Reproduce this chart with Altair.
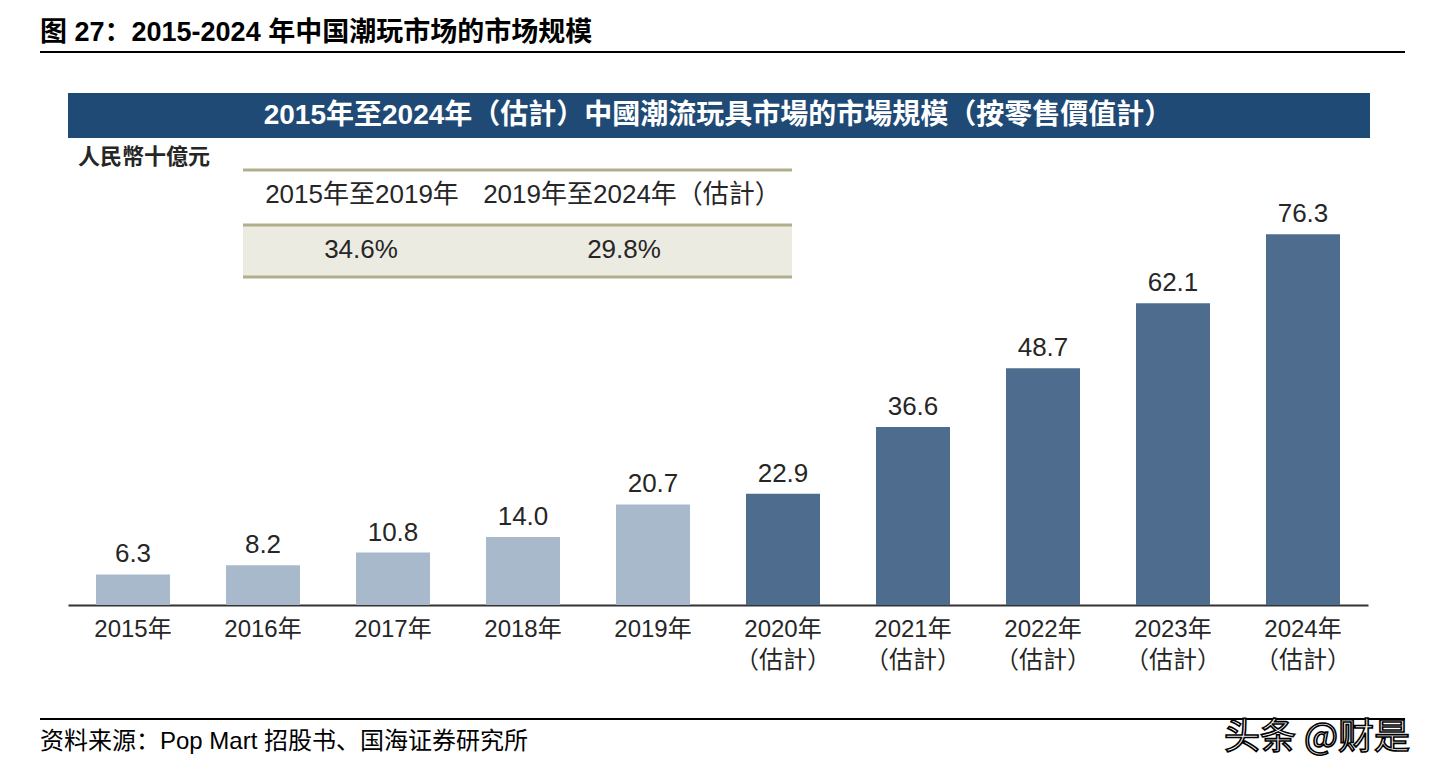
import altair as alt
import pandas as pd

# ---- data ----
years = ["2015年", "2016年", "2017年", "2018年", "2019年",
         "2020年", "2021年", "2022年", "2023年", "2024年"]
notes = ["", "", "", "", "", "（估計）", "（估計）", "（估計）", "（估計）", "（估計）"]
values = [6.3, 8.2, 10.8, 14.0, 20.7, 22.9, 36.6, 48.7, 62.1, 76.3]
kinds = ["实际", "实际", "实际", "实际", "实际", "估计", "估计", "估计", "估计", "估计"]

cagr_headers = ["2015年至2019年", "2019年至2024年（估計）"]
cagr_values = ["34.6%", "29.8%"]

fig_title = "图 27：2015-2024 年中国潮玩市场的市场规模"
chart_header = "2015年至2024年（估計）中國潮流玩具市場的市場規模（按零售價值計）"
unit_label = "人民幣十億元"
source_text = "资料来源：Pop Mart 招股书、国海证券研究所"
watermark = "头条 @财是"

df = pd.DataFrame({"year": years, "note": notes, "value": values, "kind": kinds})

LAT_TC = "Liberation Sans, Noto Sans CJK TC"
LAT_SC = "Liberation Sans, Noto Sans CJK SC"
TXT = "#262626"

xenc = alt.X("year:N", sort=years, title=None,
             scale=alt.Scale(paddingInner=0.43, paddingOuter=0.215),
             axis=alt.Axis(labels=False, ticks=False, domainColor="#333333",
                           domainWidth=2, grid=False))
yenc = alt.Y("value:Q", scale=alt.Scale(domain=[0, 100], nice=False), axis=None)

base = alt.Chart(df)

bars = base.mark_bar(size=74).encode(
    x=xenc, y=yenc,
    color=alt.Color("kind:N", scale=alt.Scale(domain=["实际", "估计"],
                                              range=["#a8b9cc", "#4e6d8e"]),
                    legend=None),
)

vlabels = base.mark_text(baseline="alphabetic", dy=-12, fontSize=26,
                         font=LAT_TC, color=TXT).encode(
    x=alt.X("year:N", sort=years), y="value:Q",
    text=alt.Text("value:Q", format=".1f"),
)

xl1 = base.mark_text(baseline="middle", fontSize=24, font=LAT_TC,
                     color=TXT).encode(
    x=alt.X("year:N", sort=years), y=alt.value(511), text="year:N")
xl2 = base.mark_text(baseline="middle", fontSize=24, font=LAT_TC,
                     color=TXT).encode(
    x=alt.X("year:N", sort=years), y=alt.value(542), text="note:N")

one = pd.DataFrame({"a": [0]})
oc = alt.Chart(one)


def rule(x1, x2, y, color, w):
    return oc.mark_rule(color=color, strokeWidth=w).encode(
        x=alt.value(x1), x2=alt.value(x2), y=alt.value(y))


def rect(x1, x2, y1, y2, color):
    return oc.mark_rect(color=color).encode(
        x=alt.value(x1), x2=alt.value(x2), y=alt.value(y1), y2=alt.value(y2))


def text(t, x, y, size, font=LAT_TC, weight="normal", color=TXT,
         align="left", **kw):
    return oc.mark_text(text=t, fontSize=size, font=font, fontWeight=weight,
                        color=color, align=align, baseline="middle", **kw).encode(
        x=alt.value(x), y=alt.value(y))


layers = [
    text(fig_title, -28, -86, 27, font=LAT_SC, weight="bold", color="#000000"),
    rule(-28, 1337, -67, "#000000", 2),
    rect(0, 1302, -26, 19, "#1f4a75"),
    text(chart_header, 650, -3, 28, weight="bold", color="#ffffff",
         align="center"),
    text(unit_label, 10, 38, 22, weight="bold"),
    rect(175, 724, 106, 158, "#ecebe1"),
    rule(175, 724, 51, "#b1ae8c", 3),
    rule(175, 724, 106, "#b1ae8c", 3),
    rule(175, 724, 158, "#b1ae8c", 3),
]
hx = [294, 564]
vx = [293, 556]
for i in range(2):
    layers.append(text(cagr_headers[i], hx[i], 76, 26, align="center"))
    layers.append(text(cagr_values[i], vx[i], 131, 26, align="center"))

layers += [
    rule(-28, 1337, 600, "#000000", 2),
    text(source_text, -28, 623, 24, font=LAT_SC, color="#000000"),
    text(watermark, 1342, 619, 36, font="Noto Sans CJK SC", color="#ffffff",
         align="right", stroke="#000000", strokeWidth=1.6),
]

chart = alt.layer(bars, vlabels, xl1, xl2, *layers).properties(
    width=1300, height=486,
    padding={"left": 60, "right": 58, "top": 111, "bottom": 162},
    autosize=alt.AutoSizeParams(type="none"),
    background="#ffffff",
).configure_view(stroke=None)

chart.save("out.html", embed_options={"renderer": "svg", "actions": False})
